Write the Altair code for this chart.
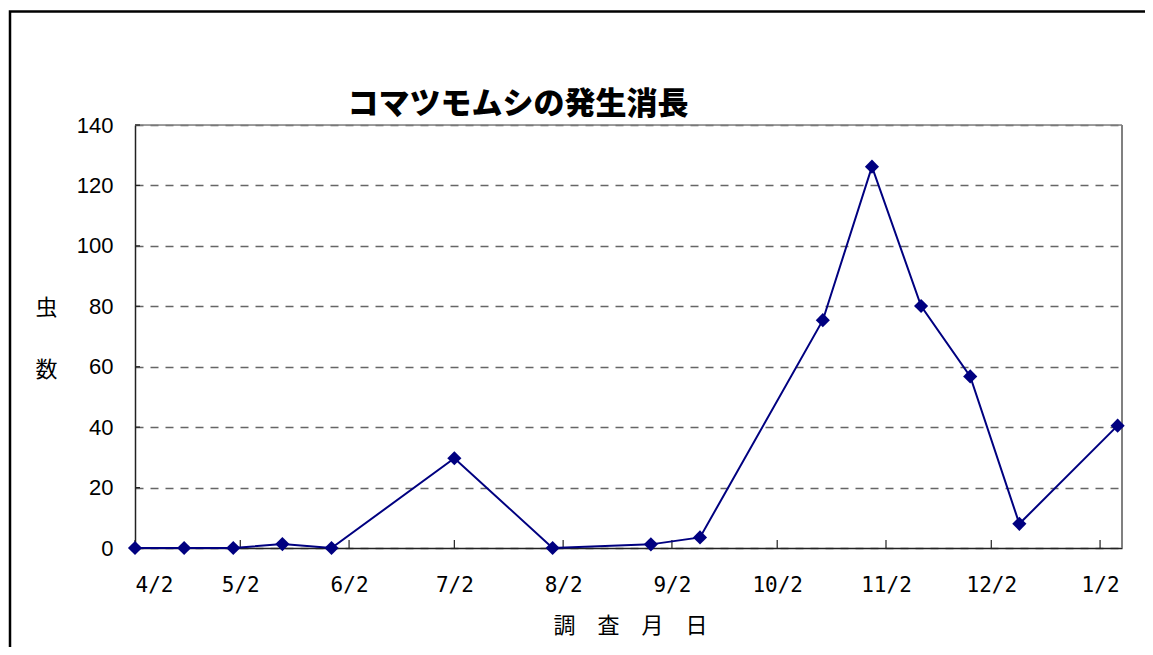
import altair as alt
import pandas as pd

# ---- data ----
survey_dates = ["2002-04-02", "2002-04-16", "2002-04-30", "2002-05-14", "2002-05-28",
                "2002-07-02", "2002-07-30", "2002-08-27", "2002-09-10", "2002-10-15",
                "2002-10-29", "2002-11-12", "2002-11-26", "2002-12-10", "2003-01-07"]
insect_counts = [0, 0, 0, 1.3, 0, 29.7, 0, 1.2, 3.5, 75.4, 126.2, 80.1, 56.8, 8, 40.5]

tick_dates = ["2002-04-02", "2002-05-02", "2002-06-02", "2002-07-02", "2002-08-02",
              "2002-09-02", "2002-10-02", "2002-11-02", "2002-12-02", "2003-01-02"]
y_ticks = [0, 20, 40, 60, 80, 100, 120, 140]

chart_title = "コマツモムシの発生消長"
x_title = "調　査　月　日"
y_title = ["虫", "数"]

W, H = 987, 423
JP = "Noto Sans CJK JP"

df = pd.DataFrame({"date": survey_dates, "count": insect_counts})
ticks_x = pd.DataFrame({"date": tick_dates})
ticks_y = pd.DataFrame({"count": y_ticks})

x_scale = alt.Scale(type="utc",
                    domain=[alt.DateTime(year=2002, month=4, date=2, utc=True),
                            alt.DateTime(year=2003, month=1, date=8, hours=6, utc=True)],
                    nice=False)
y_scale = alt.Scale(domain=[0, 140], nice=False)

x_axis = alt.Axis(
    values=[alt.DateTime(year=int(d[:4]), month=int(d[5:7]), date=int(d[8:]), utc=True) for d in tick_dates],
    labelExpr="utcFormat(datum.value, '%-m/%-d')",
    title=x_title, titleFont=JP, titleFontSize=22, titleFontWeight="normal",
    titleColor="black", titleAlign="center", titleBaseline="middle",
    titleX=495, titleY=77,
    labelFont="DejaVu Sans Mono", labelFontSize=21, labelColor="black", labelPadding=26,
    ticks=False, grid=False, domainColor="#222", domainWidth=1.5,
)
y_axis = alt.Axis(
    values=y_ticks,
    title=y_title, titleAngle=0, titleFont=JP, titleFontSize=22, titleFontWeight="normal",
    titleColor="black", titleAlign="center", titleBaseline="middle",
    titleLineHeight=62, titleX=-89, titleY=182,
    labelFont="Liberation Sans", labelFontSize=22, labelColor="black", labelPadding=22,
    ticks=False, grid=True, gridColor="#666", gridDash=[8, 7], gridWidth=1.3,
    domainColor="#222", domainWidth=1.5,
)

x_enc = alt.X("date:T", scale=x_scale, axis=x_axis)
y_enc = alt.Y("count:Q", scale=y_scale, axis=y_axis)

one = alt.Data(values=[{}])

frame = alt.Chart(one).mark_rect(fill="white", fillOpacity=0, stroke="black", strokeWidth=2.5).encode(
    x=alt.value(-125), y=alt.value(-113.5), x2=alt.value(1400), y2=alt.value(900)
)

# gray top and right edges of the plot area
top_edge = alt.Chart(one).mark_rule(color="#808080", strokeWidth=1.5).encode(
    x=alt.value(0), x2=alt.value(W), y=alt.value(0))
right_edge = alt.Chart(one).mark_rule(color="#808080", strokeWidth=2).encode(
    x=alt.value(W), y=alt.value(0), y2=alt.value(H))

line = alt.Chart(df).mark_line(color="#000080", strokeWidth=2).encode(x=x_enc, y=y_enc)
points = alt.Chart(df).mark_point(shape="diamond", filled=True, color="#000080",
                                  size=200, opacity=1).encode(x=x_enc, y=y_enc)

xt = alt.Chart(ticks_x).mark_rule(color="#222", strokeWidth=1.2).encode(
    x=x_enc, y=alt.value(H), y2=alt.value(H - 8))
yt = alt.Chart(ticks_y).mark_rule(color="#222", strokeWidth=1.2).encode(
    y=y_enc, x=alt.value(0), x2=alt.value(5))

title = alt.Chart(one).mark_text(font=JP, fontSize=31, fontWeight=900, color="black",
                                 align="center", baseline="middle").encode(
    x=alt.value(383), y=alt.value(-20), text=alt.value(chart_title))

chart = alt.layer(frame, top_edge, right_edge, xt, yt, line, points, title).properties(
    width=W, height=H,
    padding={"left": 127, "top": 117, "right": 23, "bottom": 99},
    autosize=alt.AutoSizeParams(type="none"),
).configure_view(stroke=None).configure(background="white")

chart.save("out.html", embed_options={"renderer": "svg", "actions": False})
